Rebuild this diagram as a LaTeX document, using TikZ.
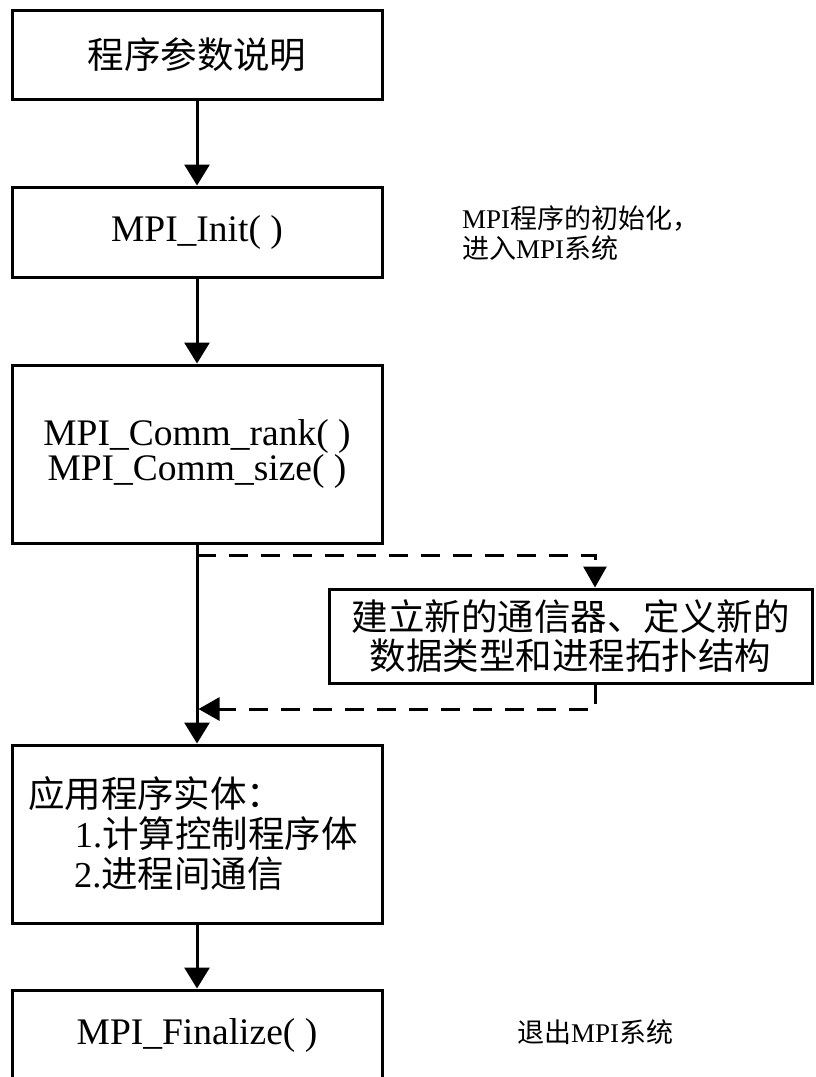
\documentclass[tikz,border=0pt]{standalone}
\usepackage{fontspec}
\setmainfont{Liberation Serif}
\newfontfamily\cjk{Noto Sans CJK SC}
\usetikzlibrary{arrows.meta,calc}
\begin{document}
\begin{tikzpicture}[x=1pt,y=-1pt,
  box/.style={draw,line width=3pt,rectangle,inner sep=0pt,align=center},
  flow/.style={line width=3pt,-{Triangle[length=21pt,width=25pt]}},
  dflow/.style={line width=3pt,dash pattern=on 19pt off 13pt,-{Triangle[length=21pt,width=23pt]}},
  lat/.style={font=\fontsize{37.5}{35}\selectfont},
  zh/.style={font=\cjk\fontsize{36.5}{39}\selectfont},
  note/.style={font=\fontsize{27}{30}\selectfont,inner sep=0pt,anchor=base west}]
\clip (0,0) rectangle (815,1077);
\fill[white] (0,0) rectangle (815,1077);
% boxes
\node[box,zh,minimum width=370pt,minimum height=89pt] (b1) at (197,54.5) {程序参数说明};
\node[box,lat,minimum width=370pt,minimum height=90pt] (b2) at (197,232) {MPI\_Init( )};
\node[box,lat,minimum width=370pt,minimum height=178pt] (b3) at (197,454) {MPI\_Comm\_rank( )\\MPI\_Comm\_size( )};
\node[box,zh,minimum width=483pt,minimum height=94pt] (b4) at (570.5,636) {建立新的通信器、定义新的\\数据类型和进程拓扑结构};
\node[box,font=\fontsize{36.5}{40}\selectfont,minimum width=370pt,minimum height=178pt,
      inner xsep=16pt,text width=338pt,align=left] (b5) at (197,834)
  {{\cjk 应用程序实体：}\\\hspace*{47pt}1.{\cjk 计算控制程序体}\\\hspace*{46pt}2.{\cjk 进程间通信}};
\node[box,lat,minimum width=370pt,minimum height=90pt] (b6) at (197,1035) {MPI\_Finalize( )};
% notes
\node[note] (n1) at (462,228) {MPI{\cjk 程序的初始化，}};
\node[note] (n2) at (462,258) {{\cjk 进入}MPI{\cjk 系统}};
\node[note] (n3) at (517,1042) {{\cjk 退出}MPI{\cjk 系统}};
% connectors
\draw[flow] (b1) -- (b2);
\draw[flow] (b2) -- (b3);
\draw[flow] (b3) -- (b5);
\draw[flow] (b5) -- (b6);
\coordinate (d1) at (197,555);
\coordinate (d2) at (198.5,709);
\draw[dflow] (d1) -| ([xshift=24.5pt]b4.north);
\draw[dflow] ([xshift=24.5pt]b4.south) |- (d2);
\end{tikzpicture}
\end{document}
